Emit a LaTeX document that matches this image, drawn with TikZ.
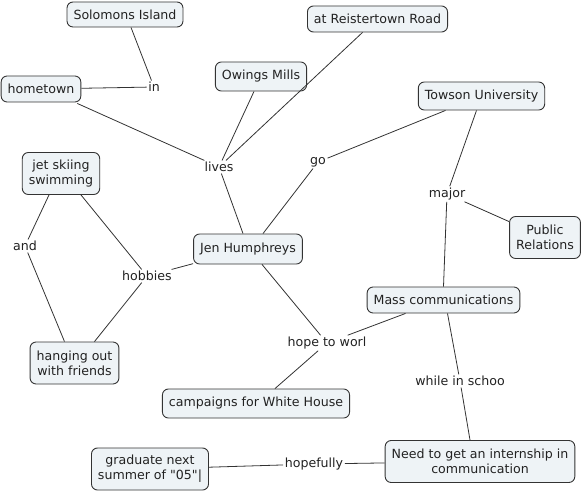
\documentclass[tikz,border=0pt]{standalone}
\usepackage{fontspec}
\setmainfont{DejaVu Sans}
\newfontfamily\plainfont{DejaVu Sans}
\definecolor{boxfill}{HTML}{EEF3F6}
\definecolor{boxline}{HTML}{333333}
\definecolor{txt}{HTML}{222222}
\begin{document}
\begin{tikzpicture}[x=1pt,y=-1pt,
  concept/.style={draw=boxline,fill=boxfill,rounded corners=6pt,line width=0.9pt,
    font=\fontsize{12.6}{15}\selectfont,text=txt,inner xsep=6.5pt,inner ysep=4pt,
    align=center,minimum height=26pt},
  twoline/.style={minimum height=42pt},
  link/.style={font=\fontsize{12.6}{15}\selectfont,text=txt,inner sep=1.5pt,fill=white},
  conn/.style={draw=boxline,line width=0.8pt}]
\useasboundingbox (0,0) rectangle (583,492);
\node[concept,minimum height=25pt] (sol) at (125,14.5) {Solomons Island};
\node[concept] (home) at (41,89) {hometown};
\node[concept,minimum height=29pt] (owm) at (261,76.5) {Owings Mills};
\node[concept] (rei) at (377.5,19) {at Reistertown Road};
\node[concept,minimum height=28pt] (tow) at (481.5,96) {Towson University};
\node[concept,twoline] (jet) at (61,173.5) {jet skiing\\swimming};
\node[concept,minimum height=30pt] (jen) at (248,249) {Jen Humphreys};
\node[concept,twoline] (pr) at (545,237.5) {Public\\Relations};
\node[concept] (mass) at (443.5,300) {Mass communications};
\node[concept,twoline] (hang) at (74.5,363) {hanging out\\with friends};
\node[concept,minimum height=29pt] (camp) at (256,403.5) {campaigns for White House};
\node[concept,twoline] (need) at (480,461.5) {Need to get an internship in\\communication};
\node[concept,twoline] (grad) at (150,469) {\plainfont graduate next\\\plainfont summer of "05"|};

\node[link] (in) at (154,87) {in};
\node[link] (lives) at (219,167) {lives};
\node[link] (go) at (318,162) {go};
\node[link] (major) at (447,194) {major};
\node[link] (and) at (25,246) {and};
\node[link] (hob) at (147,276) {hobbies};
\node[link] (hope) at (327,343) {hope to worl};
\node[link] (while) at (460,381) {while in schoo};
\node[link] (hopef) at (314,464) {hopefully};

\draw[conn] (sol.south) ++(6,0) -- (in);
\draw[conn] (home) -- (in);
\draw[conn] (home.south east) ++(-4,1) -- (lives);
\draw[conn] (owm.south) ++(-7,0) -- (lives);
\draw[conn] (rei.south) ++(-15,0) -- (lives);
\draw[conn] (lives) -- ([xshift=-5pt]jen.north);
\draw[conn] (jen.north) ++(15,0) -- (go);
\draw[conn] (go) -- ([xshift=-36pt]tow.south);
\draw[conn] (tow.south) ++(-5,0) -- (major);
\draw[conn] (major) -- (pr);
\draw[conn] (major) -- (mass.north);
\draw[conn] (jen) -- (hob);
\draw[conn] (jet.south) ++(20,0) -- (hob);
\draw[conn] (hob) -- ([xshift=20pt]hang.north);
\draw[conn] (jet.south) ++(-12,0) -- (and);
\draw[conn] (and) -- ([xshift=-10pt]hang.north);
\draw[conn] (jen.south) ++(14,0) -- (hope);
\draw[conn] (mass.south) ++(-38,0) -- (hope);
\draw[conn] (hope) -- ([xshift=19pt]camp.north);
\draw[conn] (mass.south) ++(4,0) -- (while);
\draw[conn] (while) -- ([xshift=-10pt]need.north);
\draw[conn] (grad) -- (hopef);
\draw[conn] (hopef) -- (need);
\end{tikzpicture}
\end{document}
